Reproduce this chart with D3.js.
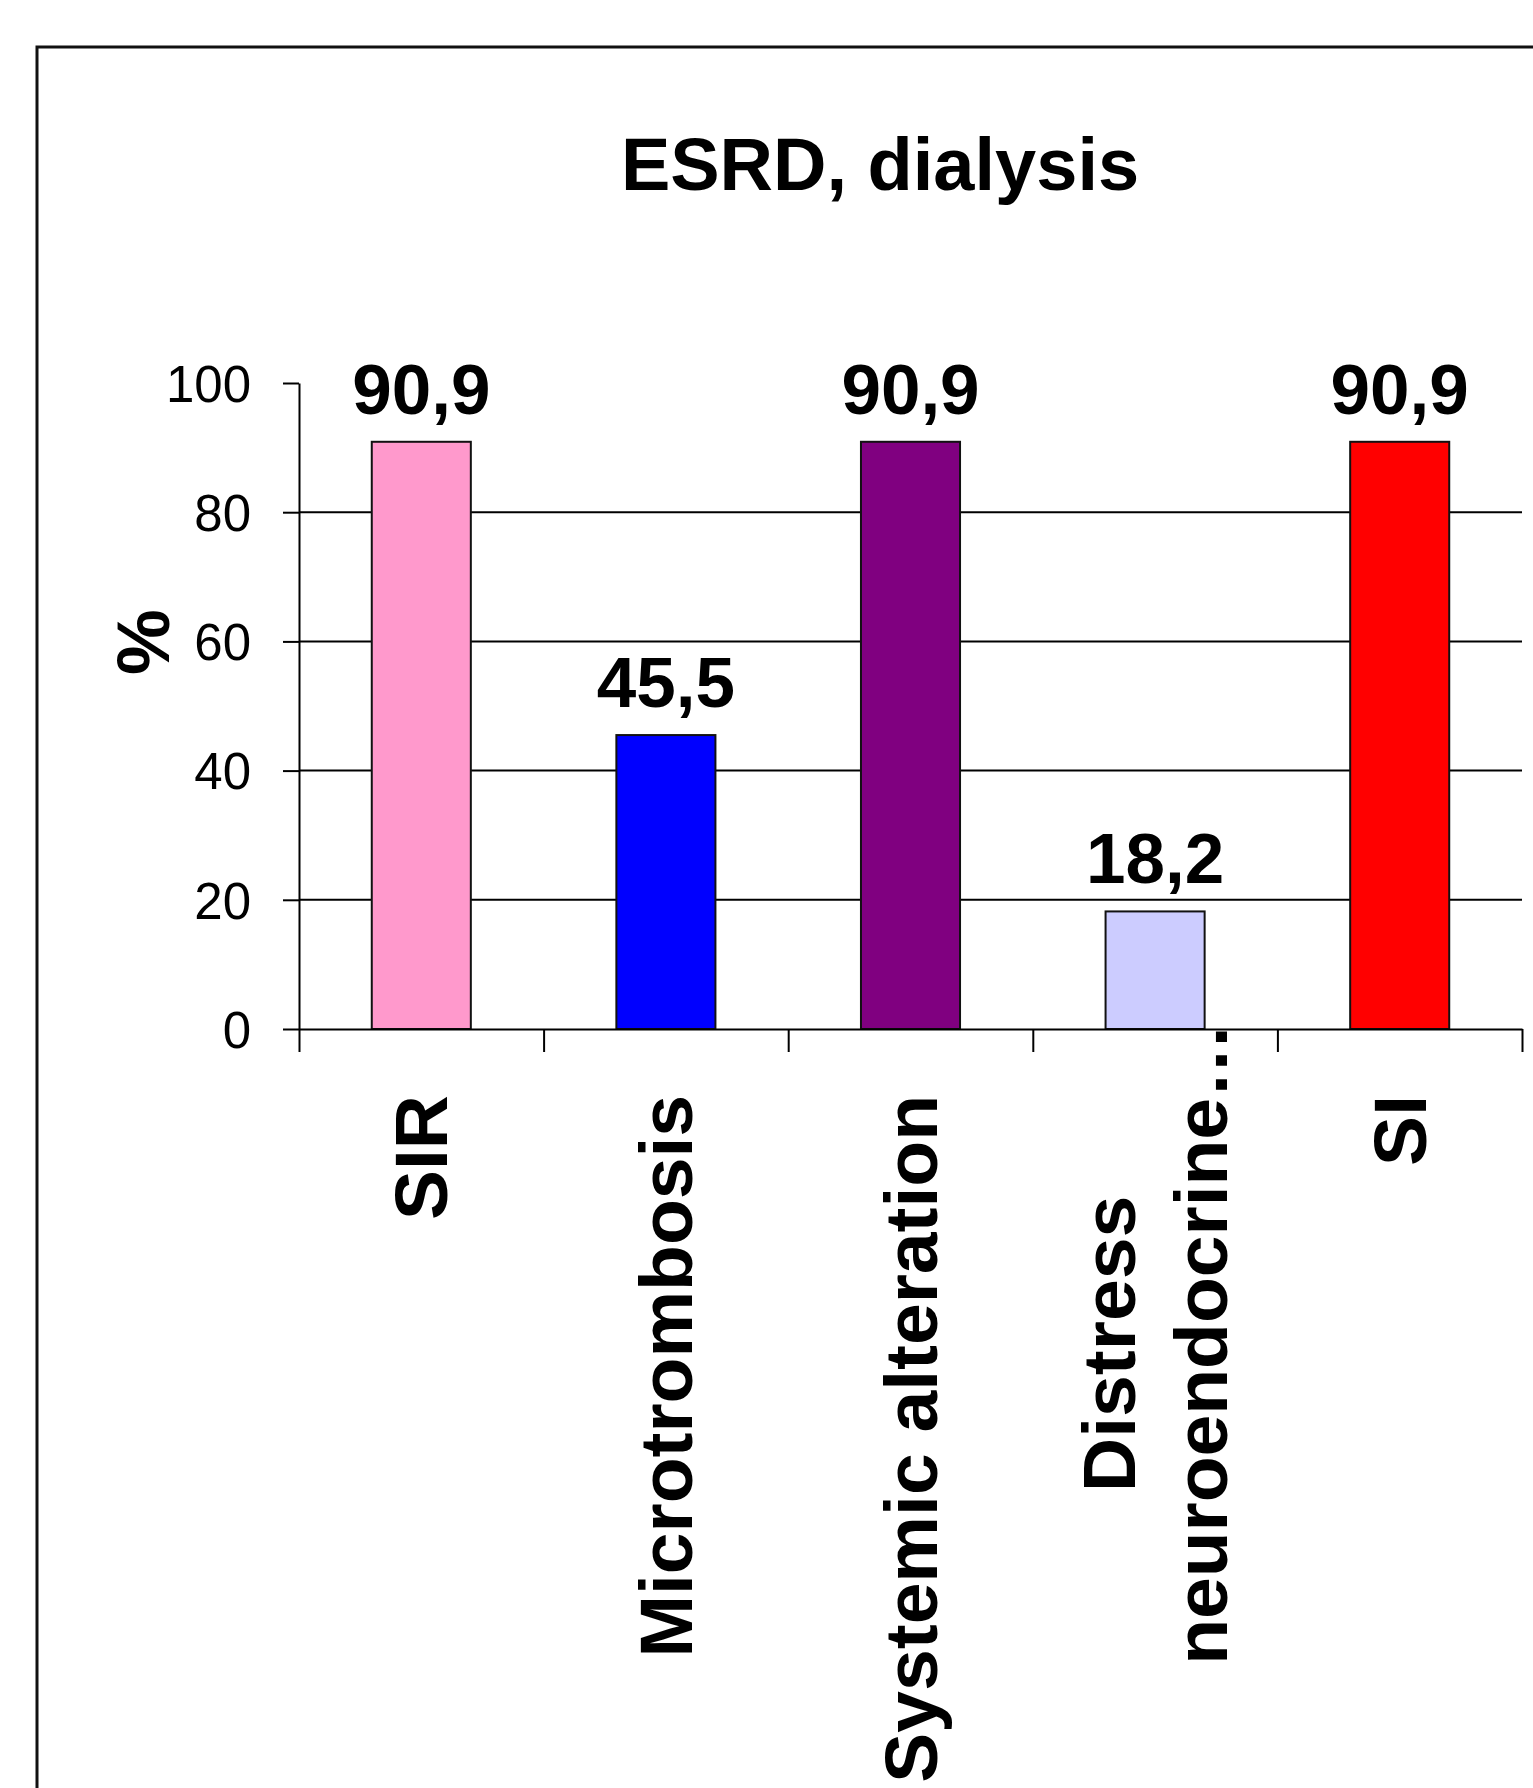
<!DOCTYPE html>
<html>
<head>
	<meta charset="utf-8">
	<title>ESRD, dialysis</title>
	<script src="https://d3js.org/d3.v7.min.js" charset="utf-8"></script>
	<style>
		body { margin: 0; background: #fff; }
		text { font-family: "Liberation Sans", Arial, sans-serif; fill: #000; }
	</style>
</head>
<body>
	<svg width="1533" height="1788"></svg>
	<script>
		// chart data
		const categories = ["SIR", "Microtrombosis", "Systemic alteration", "Distress\nneuroendocrine\u2026", "SI"];
		const values = [90.9, 45.5, 90.9, 18.2, 90.9];
		const barColors = ["#FF99CC", "#0000FF", "#800080", "#CCCCFF", "#FF0000"];
		const yTicks = [0, 20, 40, 60, 80, 100];
		const title = "ESRD, dialysis";
		const yTitle = "%";

		const plotLeft = 299, plotRight = 1522, plotTop = 383, plotBottom = 1029;

		const svg = d3.select('svg');

		// outer frame (cut off at right and bottom like the original)
		svg.append('rect')
			.attr('x', 37).attr('y', 47)
			.attr('width', 1600).attr('height', 1900)
			.attr('fill', 'none')
			.attr('stroke', '#111')
			.attr('stroke-width', 3);

		svg.append('text')
			.attr('x', 880).attr('y', 190)
			.attr('text-anchor', 'middle')
			.style('font-size', '74px')
			.style('font-weight', 'bold')
			.text(title);

		const xScale = d3.scaleBand()
			.domain(categories)
			.range([plotLeft, plotRight])
			.padding(0);

		const yScale = d3.scaleLinear()
			.domain([0, 100])
			.range([plotBottom, plotTop]);

		// gridlines
		svg.append('g')
			.selectAll('line')
			.data(yTicks.filter(function(d) { return d > 0 && d < 100; }))
			.enter().append('line')
			.attr('x1', plotLeft).attr('x2', plotRight)
			.attr('y1', function(d) { return yScale(d); })
			.attr('y2', function(d) { return yScale(d); })
			.attr('stroke', '#000')
			.attr('stroke-width', 2);

		// y axis
		const yAxis = svg.append('g')
			.attr('transform', `translate(${plotLeft},0)`)
			.call(d3.axisLeft(yScale).tickValues(yTicks).tickSize(16).tickSizeOuter(0).tickPadding(32));
		yAxis.selectAll('path, line').attr('stroke', '#000').attr('stroke-width', 2);
		yAxis.selectAll('text')
			.attr('dy', '0.36em')
			.style('font-size', '51px')
			.style('font-family', '"Liberation Sans", Arial, sans-serif')
			.attr('fill', '#000');

		svg.append('text')
			.attr('transform', 'translate(143,642) rotate(-90)')
			.attr('text-anchor', 'middle')
			.attr('dominant-baseline', 'central')
			.style('font-size', '74px')
			.style('font-weight', 'bold')
			.text(yTitle);

		// bars
		const barW = xScale.bandwidth() * 0.405;
		svg.append('g')
			.selectAll('rect')
			.data(values)
			.enter().append('rect')
			.attr('x', function(d, i) { return xScale(categories[i]) + (xScale.bandwidth() - barW) / 2; })
			.attr('y', function(d) { return yScale(d); })
			.attr('width', barW)
			.attr('height', function(d) { return yScale(0) - yScale(d); })
			.attr('fill', function(d, i) { return barColors[i]; })
			.attr('stroke', '#111')
			.attr('stroke-width', 2);

		// value labels
		svg.append('g')
			.selectAll('text')
			.data(values)
			.enter().append('text')
			.attr('x', function(d, i) { return xScale(categories[i]) + xScale.bandwidth() / 2; })
			.attr('y', function(d) { return yScale(d) - 28; })
			.attr('text-anchor', 'middle')
			.style('font-size', '71px')
			.style('font-weight', 'bold')
			.text(function(d) { return d3.format('.1f')(d).replace('.', ','); });

		// x axis with ticks between categories
		const edgeScale = d3.scaleLinear().domain([0, categories.length]).range([plotLeft, plotRight]);
		const xAxis = svg.append('g')
			.attr('transform', `translate(0,${plotBottom})`)
			.call(d3.axisBottom(edgeScale).tickValues(d3.range(categories.length + 1)).tickFormat('').tickSize(23).tickSizeOuter(0));
		xAxis.selectAll('path, line').attr('stroke', '#000').attr('stroke-width', 2);

		// rotated category labels (wrapped ones got pushed up toward the axis)
		const lineH = 92;
		categories.forEach(function(c, i) {
			const lines = c.split('\n');
			const cx = xScale(c) + xScale.bandwidth() / 2;
			const g = svg.append('g');
			const texts = lines.map(function(l, j) {
				return g.append('text')
					.attr('dominant-baseline', 'central')
					.attr('text-anchor', 'middle')
					.style('font-size', '75px')
					.style('font-weight', 'bold')
					.text(l);
			});
			const maxLen = d3.max(texts, function(t) { return t.node().getComputedTextLength(); });
			const gap = lines.length > 1 ? -6 : 66;
			const cy = plotBottom + gap + maxLen / 2;
			texts.forEach(function(t, j) {
				const dx = (j - (lines.length - 1) / 2) * lineH;
				t.attr('transform', `translate(${cx + dx},${cy}) rotate(-90)`);
			});
		});
	</script>
</body>
</html>
